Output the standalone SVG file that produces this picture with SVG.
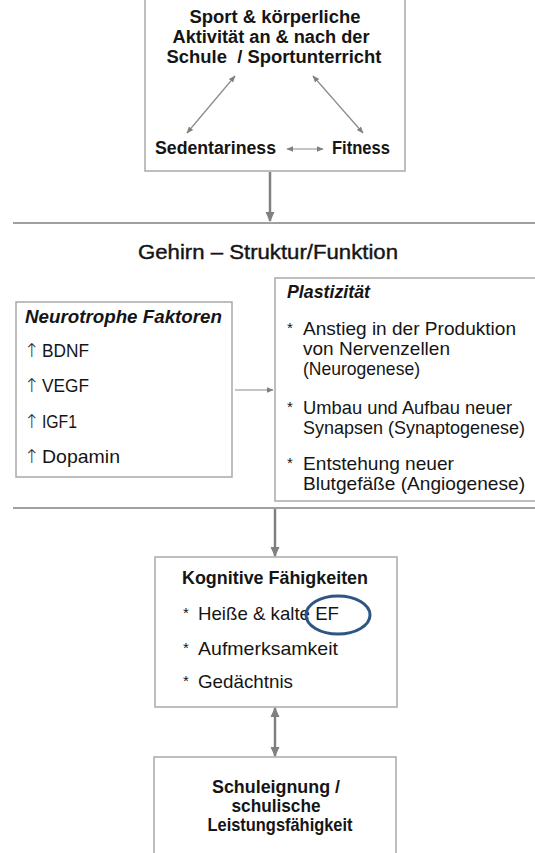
<svg xmlns="http://www.w3.org/2000/svg" width="535" height="853" viewBox="0 0 535 853">
<style>
  .box{fill:#fff;stroke:#a9a9a9;stroke-width:1.5}
  .sep{stroke:#a0a0a0;stroke-width:2;fill:none}
  .thick{stroke:#808080;stroke-width:2.5;fill:none}
  .thin{stroke:#8a8a8a;stroke-width:1.2;fill:none}
  text{font-family:"Liberation Sans",Arial,sans-serif;fill:#151515}
  .b{font-weight:bold}
  .bi{font-weight:bold;font-style:italic}
  .t16{font-size:17.5px}
  .t17{font-size:19px}
  .star{font-size:15px}
  .arr{font-family:"DejaVu Sans",sans-serif;font-size:19px;fill:#333;font-weight:200}
</style>
<defs>
  <marker id="bigEnd" markerUnits="userSpaceOnUse" markerWidth="10" markerHeight="10" viewBox="0 0 10 10" refX="9" refY="5" orient="auto">
    <path d="M0,0.5 L10,5 L0,9.5 Z" fill="#808080"/>
  </marker>
  <marker id="bigStart" markerUnits="userSpaceOnUse" markerWidth="10" markerHeight="10" viewBox="0 0 10 10" refX="1" refY="5" orient="auto">
    <path d="M10,0.5 L0,5 L10,9.5 Z" fill="#808080"/>
  </marker>
  <marker id="smEnd" markerUnits="userSpaceOnUse" markerWidth="7" markerHeight="7" viewBox="0 0 10 10" refX="9" refY="5" orient="auto">
    <path d="M0,1 L10,5 L0,9 Z" fill="#808080"/>
  </marker>
  <marker id="smStart" markerUnits="userSpaceOnUse" markerWidth="7" markerHeight="7" viewBox="0 0 10 10" refX="1" refY="5" orient="auto">
    <path d="M10,1 L0,5 L10,9 Z" fill="#808080"/>
  </marker>
</defs>

<g id="top-node">
  <rect class="box" x="145" y="-3" width="260" height="174"/>
  <text class="b t16" x="275" y="23" text-anchor="middle" textLength="171" lengthAdjust="spacingAndGlyphs">Sport &amp; körperliche</text>
  <text class="b t16" x="271" y="43" text-anchor="middle" textLength="197" lengthAdjust="spacingAndGlyphs">Aktivität an &amp; nach der</text>
  <text class="b t16" x="274" y="63" text-anchor="middle" textLength="215" lengthAdjust="spacingAndGlyphs" xml:space="preserve">Schule  / Sportunterricht</text>
</g>
<g id="sedentariness-node">
  <text class="b t16" x="155" y="154" textLength="121" lengthAdjust="spacingAndGlyphs">Sedentariness</text>
</g>
<g id="fitness-node">
  <text class="b t16" x="332" y="154" textLength="58" lengthAdjust="spacingAndGlyphs">Fitness</text>
</g>

<g id="separator-1">
  <line class="sep" x1="13" y1="223" x2="535" y2="223"/>
</g>

<g id="brain-title">
  <text x="268" y="259" text-anchor="middle" textLength="260" lengthAdjust="spacingAndGlyphs" style="font-size:20px;stroke:#151515;stroke-width:0.4">Gehirn – Struktur/Funktion</text>
</g>

<g id="neurotrophe-node">
  <rect class="box" x="16" y="302" width="216" height="175"/>
  <text class="bi t17" x="25" y="323" textLength="197" lengthAdjust="spacingAndGlyphs">Neurotrophe Faktoren</text>
  <text class="arr" x="24" y="357">↑</text>
  <text class="t17" x="42" y="357" textLength="47" lengthAdjust="spacingAndGlyphs">BDNF</text>
  <text class="arr" x="24" y="392">↑</text>
  <text class="t17" x="42" y="392" textLength="47" lengthAdjust="spacingAndGlyphs">VEGF</text>
  <text class="arr" x="24" y="428">↑</text>
  <text class="t17" x="42" y="428" textLength="35" lengthAdjust="spacingAndGlyphs">IGF1</text>
  <text class="arr" x="24" y="463">↑</text>
  <text class="t17" x="42" y="463" textLength="78" lengthAdjust="spacingAndGlyphs">Dopamin</text>
</g>

<g id="plastizitaet-node">
  <rect class="box" x="275" y="278" width="265" height="223"/>
  <text class="bi t17" x="287" y="298" textLength="83" lengthAdjust="spacingAndGlyphs">Plastizität</text>
  <text class="star" x="287" y="333">*</text>
  <text class="t17" x="303" y="335" textLength="213" lengthAdjust="spacingAndGlyphs">Anstieg in der Produktion</text>
  <text class="t17" x="303" y="355" textLength="147" lengthAdjust="spacingAndGlyphs">von Nervenzellen</text>
  <text class="t17" x="303" y="375" textLength="117" lengthAdjust="spacingAndGlyphs">(Neurogenese)</text>
  <text class="star" x="287" y="412">*</text>
  <text class="t17" x="303" y="414" textLength="209" lengthAdjust="spacingAndGlyphs">Umbau und Aufbau neuer</text>
  <text class="t17" x="303" y="434" textLength="222" lengthAdjust="spacingAndGlyphs">Synapsen (Synaptogenese)</text>
  <text class="star" x="287" y="468">*</text>
  <text class="t17" x="303" y="470" textLength="151" lengthAdjust="spacingAndGlyphs">Entstehung neuer</text>
  <text class="t17" x="303" y="490" textLength="222" lengthAdjust="spacingAndGlyphs">Blutgefäße (Angiogenese)</text>
</g>

<g id="separator-2">
  <line class="sep" x1="13" y1="508" x2="535" y2="508"/>
</g>

<g id="kognitive-node">
  <rect class="box" x="155" y="557" width="242" height="150"/>
  <text class="b t17" x="182" y="584" textLength="186" lengthAdjust="spacingAndGlyphs">Kognitive Fähigkeiten</text>
  <text class="star" x="183" y="618">*</text>
  <text class="t17" x="198" y="620" textLength="141" lengthAdjust="spacingAndGlyphs">Heiße &amp; kalte EF</text>
  <text class="star" x="183" y="653">*</text>
  <text class="t17" x="198" y="655" textLength="140" lengthAdjust="spacingAndGlyphs">Aufmerksamkeit</text>
  <text class="star" x="183" y="686">*</text>
  <text class="t17" x="198" y="688" textLength="95" lengthAdjust="spacingAndGlyphs">Gedächtnis</text>
  <ellipse cx="338" cy="615" rx="32" ry="19" fill="none" stroke="#2f5583" stroke-width="3"/>
</g>

<g id="schuleignung-node">
  <rect class="box" x="154" y="757" width="242" height="105"/>
  <text class="b t17" x="276" y="793" text-anchor="middle" textLength="128" lengthAdjust="spacingAndGlyphs">Schuleignung /</text>
  <text class="b t17" x="276" y="812" text-anchor="middle" textLength="89" lengthAdjust="spacingAndGlyphs">schulische</text>
  <text class="b t17" x="280" y="831" text-anchor="middle" textLength="145" lengthAdjust="spacingAndGlyphs">Leistungsfähigkeit</text>
</g>

<g id="connectors">
  <line class="thin" x1="235" y1="76" x2="187" y2="133" marker-start="url(#smStart)" marker-end="url(#smEnd)"/>
  <line class="thin" x1="313" y1="76" x2="363" y2="133" marker-start="url(#smStart)" marker-end="url(#smEnd)"/>
  <line class="thin" x1="287" y1="149" x2="323" y2="149" marker-start="url(#smStart)" marker-end="url(#smEnd)"/>
  <line class="thick" x1="270" y1="172" x2="270" y2="221" marker-end="url(#bigEnd)"/>
  <line class="thin" x1="235" y1="390" x2="273" y2="390" marker-end="url(#smEnd)"/>
  <line class="thick" x1="275" y1="509" x2="275" y2="556" marker-end="url(#bigEnd)"/>
  <line class="thick" x1="275" y1="708" x2="275" y2="756" marker-start="url(#bigStart)" marker-end="url(#bigEnd)"/>
</g>
</svg>
